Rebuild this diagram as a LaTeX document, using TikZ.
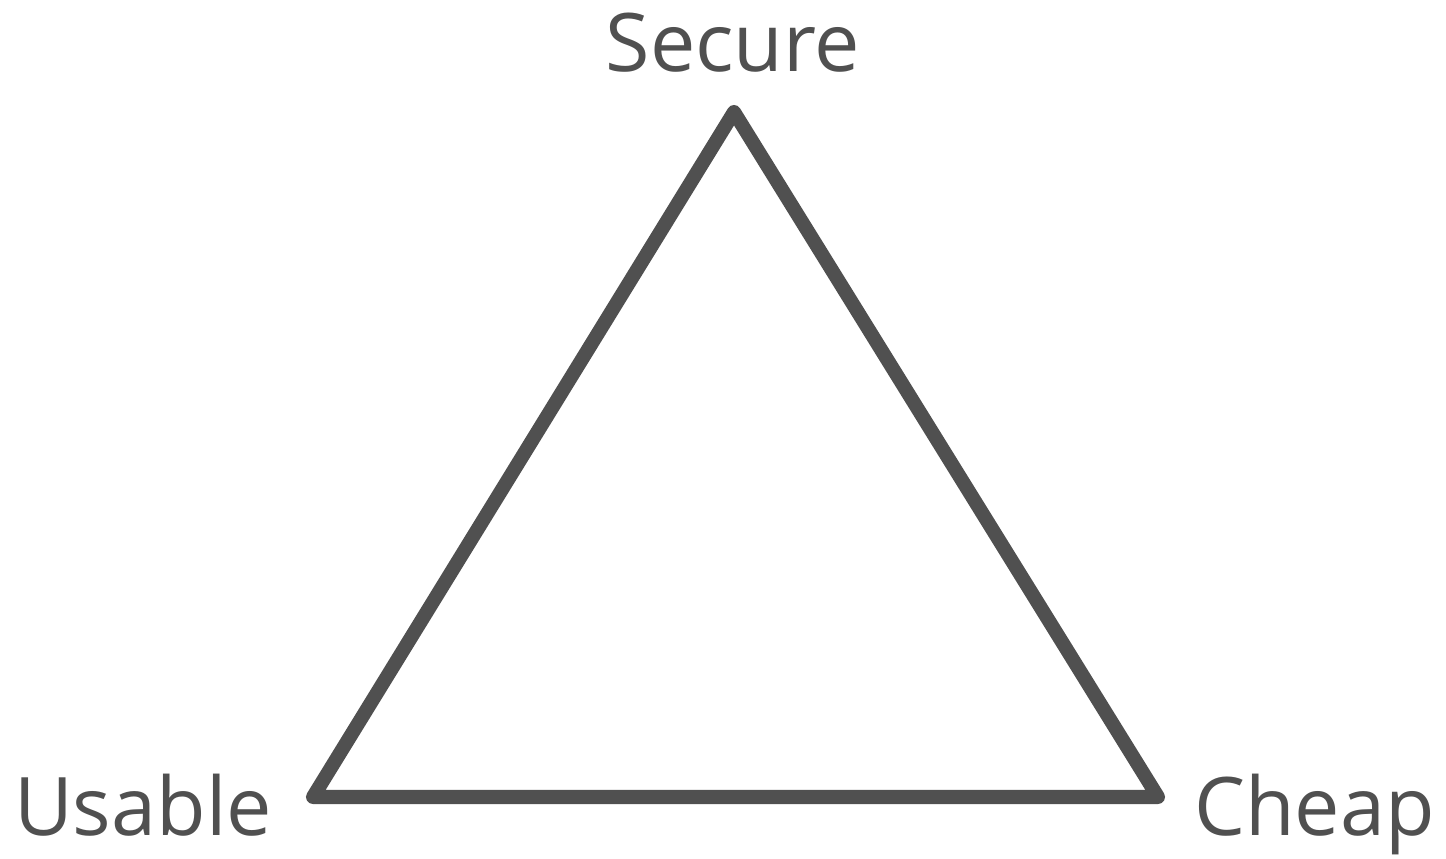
\documentclass[tikz,border=0pt]{standalone}
\usepackage{fontspec}
\setmainfont{Open Sans}
\definecolor{edgegray}{HTML}{505050}
\tikzset{
  corner label/.style={anchor=base, inner sep=0pt, text=edgegray, font=\fontsize{46}{56}\selectfont},
  side/.style={draw=edgegray, line width=8pt, line join=round, line cap=round}
}
\begin{document}
\begin{tikzpicture}
    \useasboundingbox (0,0) rectangle (28.92,17.16);

    % Corners of the triangle
    \coordinate (top) at (14.68,14.92);
    \coordinate (left) at (6.26,1.22);
    \coordinate (right) at (23.16,1.22);

    % Draw the triangle
    \draw[side] (top) -- (right) -- (left) -- cycle;

    % Add labels
    \node[corner label] (secure) at (14.66,15.72) {Secure};
    \node[corner label] (usable) at (2.86,0.46) {Usable};
    \node[corner label] (cheap) at (26.29,0.46) {Cheap};
\end{tikzpicture}
\end{document}
